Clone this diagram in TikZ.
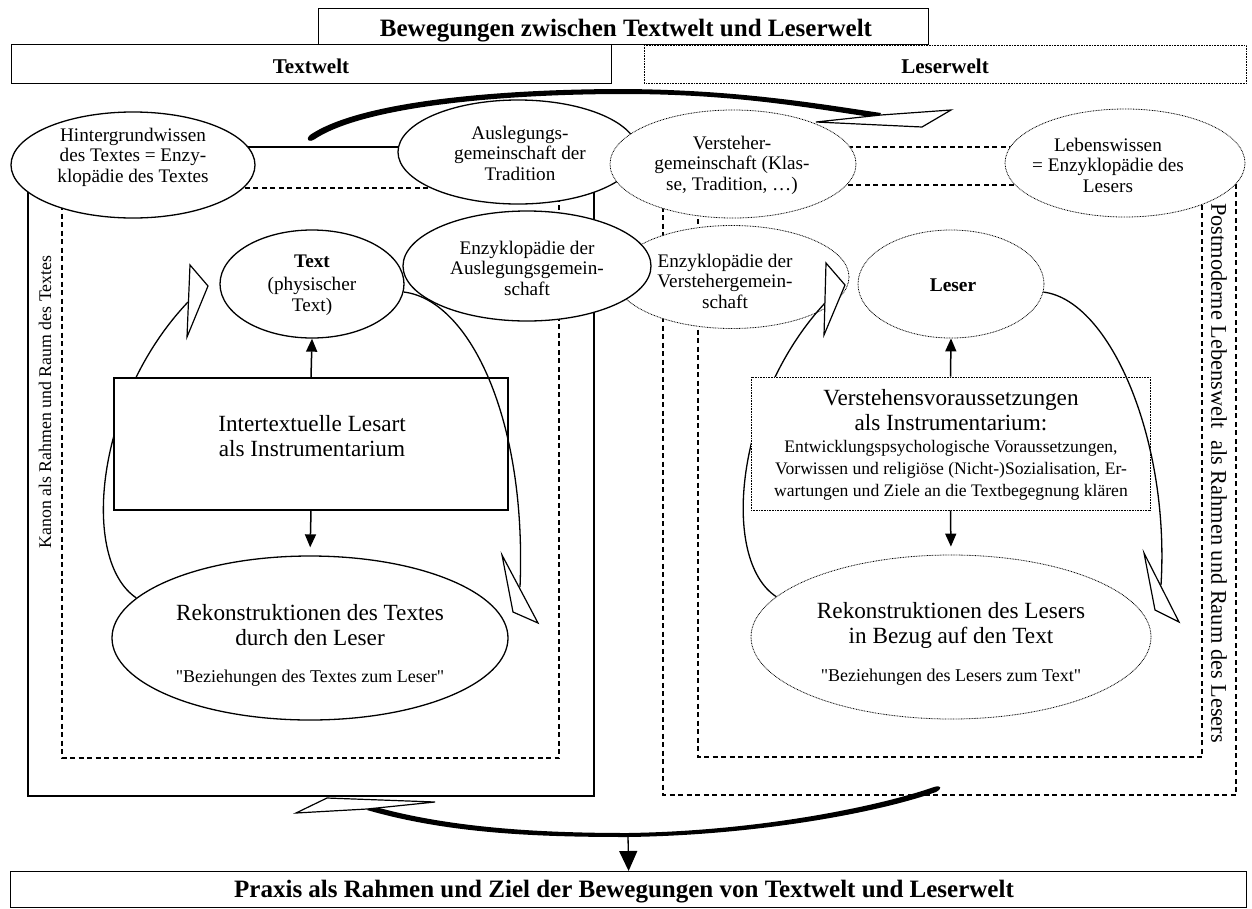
\documentclass[tikz,border=0pt]{standalone}
\usepackage{fontspec}
\setmainfont{Liberation Serif}[Ligatures=TeXOff]
\usetikzlibrary{arrows.meta,shapes.geometric}
\newcommand{\myfs}[2]{\fontsize{#1pt}{#2pt}\selectfont}
\tikzset{
  rect/.style={draw, line width=1.2pt, fill=white, inner sep=0pt},
  dotrect/.style={draw, line width=0.8pt, dash pattern=on 0.8pt off 0.8pt, fill=white, inner sep=0pt},
  solidell/.style={ellipse, draw, line width=1.3pt, fill=white, inner sep=0pt},
  dotell/.style={ellipse, draw, line width=0.8pt, dash pattern=on 0.8pt off 0.8pt, fill=white, inner sep=0pt},
  dashfr/.style={line width=1.2pt, dash pattern=on 5pt off 3.5pt},
  solidfr/.style={line width=1.3pt},
  etxt/.style={align=center, inner sep=0pt, font=\myfs{19.2}{20.5}},
  bigtxt/.style={align=center, inner sep=0pt, font=\myfs{23.2}{25}},
  smtxt/.style={align=center, inner sep=0pt, font=\myfs{17.6}{22}},
  qtxt/.style={inner sep=0pt, font=\myfs{18}{19}},
  hdtxt/.style={inner sep=0pt, font=\bfseries\myfs{25}{26}},
  wtxt/.style={inner sep=0pt, font=\bfseries\myfs{21}{22}},
  arr/.style={line width=1.5pt, -{Triangle[length=13pt,width=11pt]}},
  bigarr/.style={line width=1.3pt, -{Triangle[length=20pt,width=18pt]}},
  cyc/.style={line width=1.3pt},
  headst/.style={draw, line width=1.2pt, fill=white, line join=miter},
}
\begin{document}
\begin{tikzpicture}[x=1pt,y=-1pt]
\useasboundingbox (0,0) rectangle (1252,908);

% frames
\draw[solidfr] (28,147) rectangle (594,796);
\draw[dashfr] (62,188) rectangle (559,758);
\draw[dashfr] (663,147) rectangle (1236,795);
\draw[dashfr] (698,185) rectangle (1202,757);

% side texts
\node[rotate=90, inner sep=0pt, font=\myfs{17.8}{19}] (kanon) at (45,402) {Kanon als Rahmen und Raum des Textes};
\node[rotate=-90, inner sep=0pt, font=\myfs{22.4}{24}] (postm) at (1219,473) {Postmoderne Lebenswelt\ \ als Rahmen und Raum des Lesers};

% top row ellipses
\node[solidell, minimum width=244pt, minimum height=106pt] (hint) at (133,165) {};
\node[solidell, minimum width=240pt, minimum height=104pt] (ausl) at (518,152) {};
\node[dotell, minimum width=246pt, minimum height=108pt] (verst) at (733,164) {};
\node[dotell, minimum width=240pt, minimum height=108pt] (leben) at (1125,163) {};
% second row
\node[dotell, minimum width=234pt, minimum height=103pt] (enzv) at (732,277) {};
\node[solidell, minimum width=248pt, minimum height=110pt] (enza) at (527,266) {};
\node[solidell, minimum width=184pt, minimum height=108pt] (textE) at (312,284) {};
\node[dotell, minimum width=186pt, minimum height=108pt] (leser) at (951,284) {};
% reconstruction ellipses
\node[solidell, minimum width=396pt, minimum height=164pt] (rekT) at (310,638) {};
\node[dotell, minimum width=400pt, minimum height=164pt] (rekL) at (951,637) {};

% ellipse texts
\node[etxt] (hintT) at (133,157) {Hintergrundwissen\\des Textes = Enzy-\\klopädie des Textes};
\node[etxt] (auslT) at (520,153) {Auslegungs-\\gemeinschaft der\\Tradition};
\node[etxt] (verstT) at (732,165) {Versteher-\\gemeinschaft (Klas-\\se, Tradition, …)};
\node[etxt] (lebenT) at (1108,165) {Lebenswissen\\= Enzyklopädie des\\Lesers};
\node[etxt] (enzaT) at (527,268) {Enzyklopädie der\\Auslegungsgemein-\\schaft};
\node[etxt] (enzvT) at (725,281) {Enzyklopädie der\\Verstehergemein-\\schaft};
\node[etxt] (textT) at (312,285) {{\bfseries Text}\\[3pt](physischer\\Text)};
\node[inner sep=0pt, font=\bfseries\myfs{19.4}{20}] (leserT) at (953,285) {Leser};
\node[bigtxt] (rekTa) at (310,625) {Rekonstruktionen des Textes\\durch den Leser};
\node[qtxt] (rekTb) at (310,678) {"Beziehungen des Textes zum Leser"};
\node[bigtxt] (rekLa) at (951,625) {Rekonstruktionen des Lesers\\in Bezug auf den Text};
\node[qtxt] (rekLb) at (951,677) {"Beziehungen des Lesers zum Text"};

% cycle curves hidden behind boxes
\coordinate (hTL) at (188,302);
\coordinate (hLL) at (825,303);
\draw[cyc] (rekT.167) .. controls (80,560) and (95,400) .. (hTL);
\draw[cyc] (rekL.167) .. controls (720,560) and (735,400) .. (hLL);

% boxes
\node[rect, minimum width=394pt, minimum height=132pt] (inter) at (311,444) {};
\node[bigtxt] (interT) at (312,436) {Intertextuelle Lesart\\als Instrumentarium};
\node[dotrect, minimum width=399pt, minimum height=133pt] (vbox) at (950.5,443.5) {};
\node[bigtxt] (vboxA) at (951,410) {Verstehensvoraussetzungen\\als Instrumentarium:};
\node[smtxt] (vboxB) at (951,470) {Entwicklungspsychologische Voraussetzungen,\\Vorwissen und religiöse (Nicht-)Sozialisation, Er-\\wartungen und Ziele an die Textbegegnung klären};

% cycle curves over boxes
\coordinate (hTR) at (520,587);
\coordinate (hLR) at (1161,585);
\draw[cyc] (textE.-5) .. controls (470,300) and (527,420) .. (hTR);
\draw[cyc] (leser.-5) .. controls (1110,300) and (1170,440) .. (hLR);

% cycle heads
\draw[headst] (190,265) -- (208,286) -- (187,337) -- cycle;
\draw[headst] (826,263) -- (845,285) -- (824,335) -- cycle;
\draw[headst] (502,555) -- (538,623) -- (513,612) -- cycle;
\draw[headst] (1144,553) -- (1179,622) -- (1155,610) -- cycle;

% straight arrows
\draw[arr] (inter.north) -- (textE.south);
\draw[arr, shorten >=8pt] (inter.south) -- (rekT.north);
\draw[arr] (vbox.north) -- (leser.south);
\draw[arr, shorten >=8pt] (vbox.south) -- (rekL.north);

% header boxes
\node[rect, minimum width=610pt, minimum height=36pt, anchor=north west] (titlebox) at (318,8) {};
\node[hdtxt] (title) at (626,31) {Bewegungen zwischen Textwelt und Leserwelt};
\node[rect, minimum width=600pt, minimum height=39pt, anchor=north west] (twbox) at (11,44) {};
\node[wtxt] (twT) at (311,66) {Textwelt};
\node[dotrect, minimum width=602pt, minimum height=38pt, anchor=north west] (lwbox) at (644,45) {};
\node[wtxt] (lwT) at (945,66) {Leserwelt};

% praxis box
\node[rect, minimum width=1236pt, minimum height=36pt, anchor=north west] (praxbox) at (10,871) {};
\node[hdtxt] (praxT) at (624,892) {Praxis als Rahmen und Ziel der Bewegungen von Textwelt und Leserwelt};

% top curved arrow
\fill[black] (310,135) .. controls (360,101) and (500,89) .. (625,89) .. controls (740,90) and (820,104) .. (881,113) -- (878,118) .. controls (815,109) and (738,94) .. (625,94) .. controls (505,94) and (365,106) .. (315,139) .. controls (309,143) and (305,140) .. (310,135) -- cycle;
\draw[headst] (881,115) -- (951,110) -- (922,127) -- (816,122) -- cycle;

% bottom curved arrow
\fill[black] (367,810) .. controls (450,834) and (540,837) .. (628,837) .. controls (760,835) and (880,812) .. (936,792) .. controls (943,788) and (941,785) .. (934,787) .. controls (880,806) and (760,831) .. (628,833) .. controls (540,833) and (450,828) .. (372,806) -- cycle;
\draw[headst] (296,813) -- (327,798) -- (435,802) -- (367,809) -- cycle;
\coordinate (bm) at (628,835);
\draw[bigarr] (bm) -- (praxbox.north);
\end{tikzpicture}
\end{document}
